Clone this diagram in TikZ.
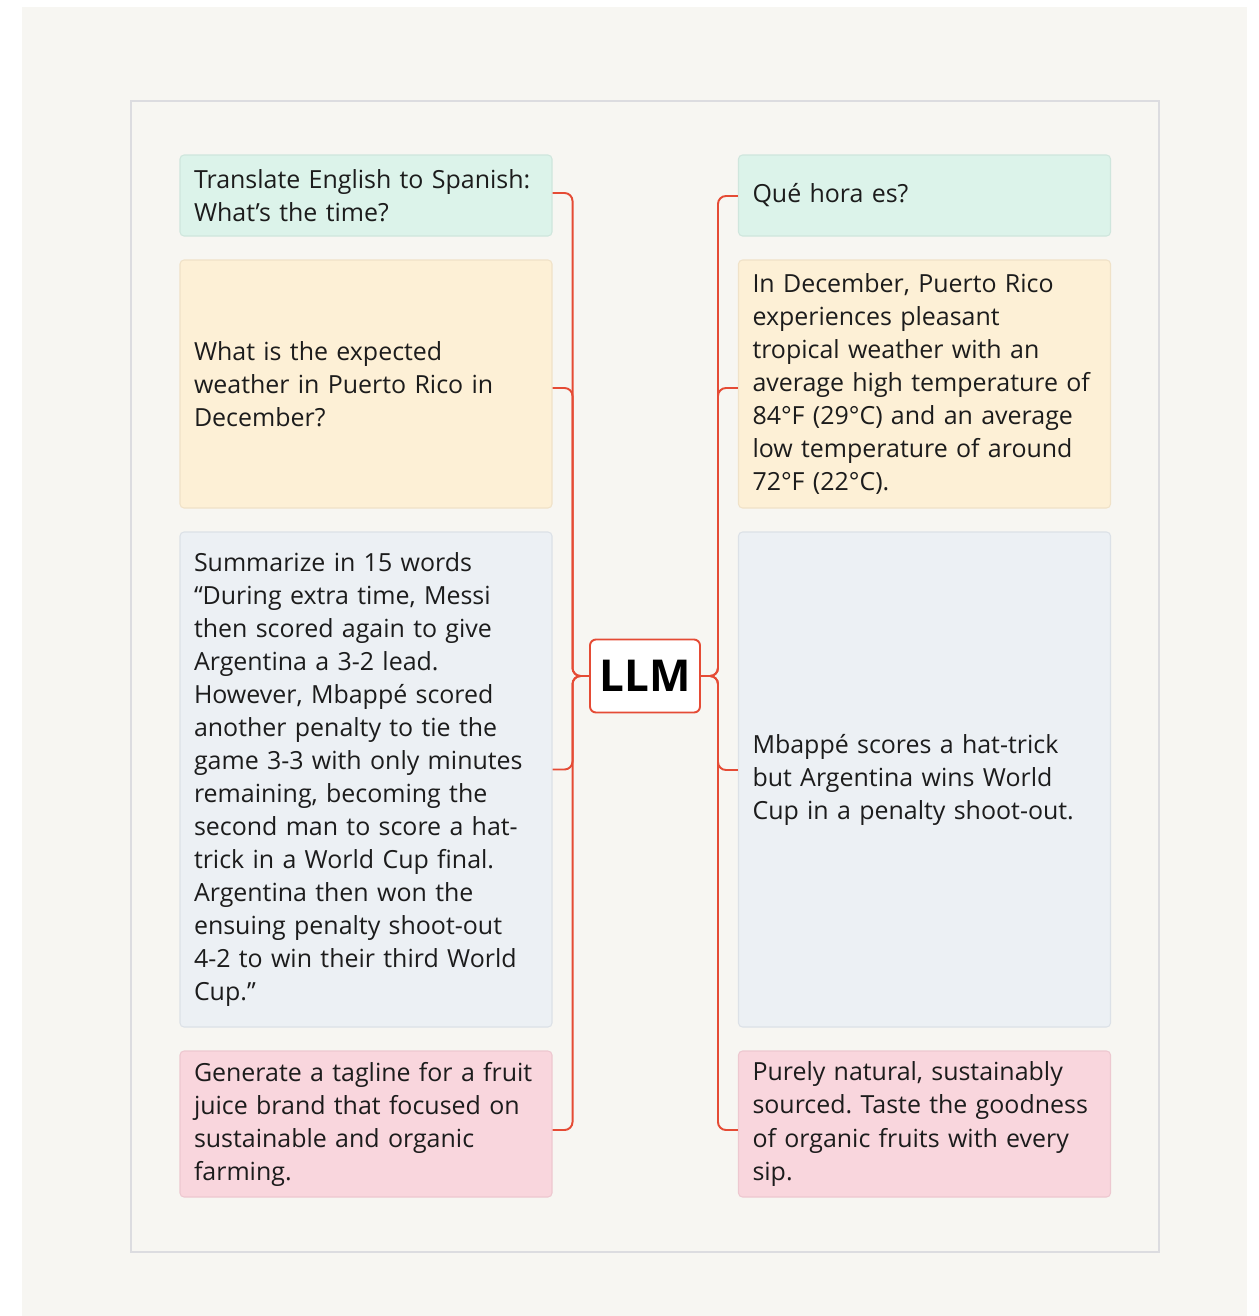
\documentclass[tikz,border=0pt]{standalone}
\usepackage{fontspec}
\setmainfont{Open Sans}
\frenchspacing
\definecolor{pagebeige}{HTML}{F7F6F2}
\definecolor{framegray}{HTML}{DCDCE0}
\definecolor{llmred}{HTML}{E54B35}
\definecolor{textgray}{HTML}{1C1C1C}
\definecolor{mintfill}{HTML}{DCF3EA}
\definecolor{mintline}{HTML}{CFE6DD}
\definecolor{peachfill}{HTML}{FDF0D6}
\definecolor{peachline}{HTML}{F0E2C8}
\definecolor{bluefill}{HTML}{ECF0F4}
\definecolor{blueline}{HTML}{DCE1E7}
\definecolor{pinkfill}{HTML}{F9D6DD}
\definecolor{pinkline}{HTML}{EDC8D0}
\begin{document}
\begin{tikzpicture}[scale=1,
    box/.style={rectangle, rounded corners=0.08cm, line width=0.6pt,
      text width=6.88cm, inner xsep=0.28cm, align=left, text=textgray,
      font=\fontsize{14.2}{18.8}\selectfont},
    conn/.style={draw=llmred, line width=1.1pt, rounded corners=0.16cm}]
    \useasboundingbox (0,0) rectangle (25.16,-26.32);
    % page and frame
    \fill[pagebeige] (0.44,-0.14) rectangle (24.94,-26.32);
    \draw[framegray, line width=0.8pt] (2.62,-2.02) rectangle (23.18,-25.04);

    % prompts
    \node[box, fill=mintfill, draw=mintline, minimum height=1.62cm] (q1) at (7.32,-3.91)
        {Translate English to Spanish:\\What’s the time?};
    \node[box, fill=peachfill, draw=peachline, minimum height=4.96cm] (q2) at (7.32,-7.68)
        {What is the expected\\weather in Puerto Rico in\\December?};
    \node[box, fill=bluefill, draw=blueline, minimum height=9.9cm] (q3) at (7.32,-15.59)
        {Summarize in 15 words\\“During extra time, Messi\\then scored again to give\\Argentina a 3-2 lead.\\However, Mbappé scored\\another penalty to tie the\\game 3-3 with only minutes\\remaining, becoming the\\second man to score a hat-\\trick in a World Cup final.\\Argentina then won the\\ensuing penalty shoot-out\\4-2 to win their third World\\Cup.”};
    \node[box, fill=pinkfill, draw=pinkline, minimum height=2.92cm] (q4) at (7.32,-22.48)
        {Generate a tagline for a fruit\\juice brand that focused on\\sustainable and organic\\farming.};

    % answers
    \node[box, fill=mintfill, draw=mintline, minimum height=1.62cm] (a1) at (18.49,-3.91)
        {Qué hora es?};
    \node[box, fill=peachfill, draw=peachline, minimum height=4.96cm] (a2) at (18.49,-7.68)
        {In December, Puerto Rico\\experiences pleasant\\tropical weather with an\\average high temperature of\\84°F (29°C) and an average\\low temperature of around\\72°F (22°C).};
    \node[box, fill=bluefill, draw=blueline, minimum height=9.9cm] (a3) at (18.49,-15.59)
        {Mbappé scores a hat-trick\\but Argentina wins World\\Cup in a penalty shoot-out.};
    \node[box, fill=pinkfill, draw=pinkline, minimum height=2.92cm] (a4) at (18.49,-22.48)
        {Purely natural, sustainably\\sourced. Taste the goodness\\of organic fruits with every\\sip.};

    % model in the middle
    \node[rectangle, rounded corners=0.12cm, fill=white, draw=llmred, line width=1.1pt,
        minimum width=2.2cm, minimum height=1.46cm, text=black,
        font=\fontsize{25}{30}\selectfont\bfseries] (llm) at (12.9,-13.52) {LLM};

    % connectors (stubs sit a little off the box centres)
    \foreach \q/\dy in {q1/0.05,q2/-0.08,q3/0.2,q4/-0.12}
        \draw[conn] ([yshift=\dy cm]\q.east) -- ++(0.4,0) |- (llm.west);
    \foreach \a/\dy in {a1/-0.01,a2/-0.08,a3/0.19,a4/-0.12}
        \draw[conn] ([yshift=\dy cm]\a.west) -- ++(-0.4,0) |- (llm.east);
\end{tikzpicture}
\end{document}
